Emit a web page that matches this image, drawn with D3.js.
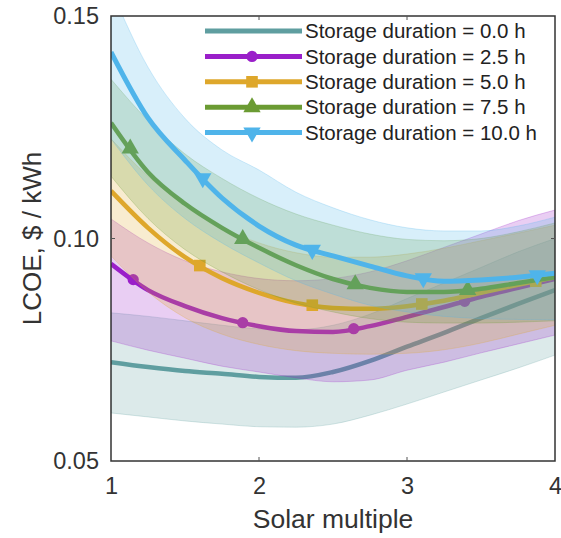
<!DOCTYPE html>
<html>
<head>
<meta charset="utf-8">
<script src="https://cdn.jsdelivr.net/npm/d3@7"></script>
<style>
  html, body { margin: 0; padding: 0; background: #fff; }
  svg { display: block; font-family: "Liberation Sans", Arial, sans-serif; }
</style>
</head>
<body>
<svg id="chart" width="561" height="538"></svg>
<script>
// ---- data ----
const solarMultiple = [1, 1.25, 1.5, 1.75, 2, 2.25, 2.5, 2.75, 3, 3.25, 3.5, 3.75, 4];

const seriesNames = ["Storage duration = 0.0 h", "Storage duration = 2.5 h", "Storage duration = 5.0 h",
                     "Storage duration = 7.5 h", "Storage duration = 10.0 h"];

const dur00 =   [0.0722, 0.0711, 0.0702, 0.0696, 0.0689, 0.0687, 0.0700, 0.0725, 0.0757, 0.0788, 0.0821, 0.0853, 0.0884];
const dur00Lo = [0.0608, 0.0599, 0.0590, 0.0583, 0.0577, 0.0576, 0.0583, 0.0603, 0.0628, 0.0655, 0.0682, 0.0709, 0.0738];
const dur00Hi = [0.0833, 0.0825, 0.0815, 0.0805, 0.0797, 0.0795, 0.0805, 0.0830, 0.0865, 0.0900, 0.0935, 0.0970, 0.1000];

const dur25 =   [0.0943, 0.0884, 0.0848, 0.0821, 0.0803, 0.0792, 0.0790, 0.0803, 0.0824, 0.0846, 0.0869, 0.0889, 0.0909];
const dur25Lo = [0.0770, 0.0749, 0.0731, 0.0713, 0.0700, 0.0687, 0.0678, 0.0682, 0.0704, 0.0722, 0.0743, 0.0763, 0.0783];
const dur25Hi = [0.1044, 0.0990, 0.0950, 0.0925, 0.0910, 0.0905, 0.0910, 0.0925, 0.0950, 0.0980, 0.1010, 0.1040, 0.1064];

const dur50 =   [0.1107, 0.1024, 0.0958, 0.0911, 0.0878, 0.0855, 0.0844, 0.0842, 0.0848, 0.0860, 0.0878, 0.0896, 0.0913];
const dur50Lo = [0.0961, 0.0880, 0.0822, 0.0785, 0.0762, 0.0748, 0.0742, 0.0740, 0.0742, 0.0750, 0.0765, 0.0785, 0.0805];
const dur50Hi = [0.1224, 0.1140, 0.1075, 0.1025, 0.0990, 0.0968, 0.0958, 0.0958, 0.0965, 0.0978, 0.0995, 0.1012, 0.1030];

const dur75 =   [0.1260, 0.1149, 0.1078, 0.1024, 0.0979, 0.0940, 0.0909, 0.0889, 0.0880, 0.0880, 0.0887, 0.0900, 0.0913];
const dur75Lo = [0.1140, 0.1045, 0.0975, 0.0925, 0.0885, 0.0855, 0.0835, 0.0820, 0.0812, 0.0810, 0.0810, 0.0812, 0.0815];
const dur75Hi = [0.1358, 0.1265, 0.1190, 0.1135, 0.1090, 0.1055, 0.1030, 0.1010, 0.0998, 0.0995, 0.1000, 0.1015, 0.1035];

const dur100 =   [0.1419, 0.1271, 0.1176, 0.1091, 0.1028, 0.0985, 0.0961, 0.0938, 0.0916, 0.0904, 0.0907, 0.0913, 0.0922];
const dur100Lo = [0.1224, 0.1120, 0.1045, 0.0990, 0.0945, 0.0905, 0.0875, 0.0850, 0.0835, 0.0825, 0.0820, 0.0818, 0.0817];
const dur100Hi = [0.1560, 0.1385, 0.1270, 0.1199, 0.1154, 0.1104, 0.1069, 0.1042, 0.1024, 0.1017, 0.1017, 0.1028, 0.1048];

// solar multiple at which markers sit
const markers00 = [];
const markers25 = [1.15, 1.89, 2.64, 3.39];
const markers50 = [1.60, 2.36, 3.10, 3.87];
const markers75 = [1.13, 1.89, 2.65, 3.41];
const markers100 = [1.62, 2.36, 3.11, 3.88];

const xTicks = [1, 2, 3, 4];
const yTicks = [0.05, 0.10, 0.15];

// ---- styling ----
const colors = ["#5f9ea0", "#9a1fc9", "#dea72b", "#6b9b33", "#4fb4ea"];
const symbols = [null, d3.symbolCircle, d3.symbolSquare, d3.symbolTriangle, "down"];

const series = [
  {name: seriesNames[0], mid: dur00, lo: dur00Lo, hi: dur00Hi, mk: markers00},
  {name: seriesNames[1], mid: dur25, lo: dur25Lo, hi: dur25Hi, mk: markers25},
  {name: seriesNames[2], mid: dur50, lo: dur50Lo, hi: dur50Hi, mk: markers50},
  {name: seriesNames[3], mid: dur75, lo: dur75Lo, hi: dur75Hi, mk: markers75},
  {name: seriesNames[4], mid: dur100, lo: dur100Lo, hi: dur100Hi, mk: markers100}
];

const M = {left: 111, right: 555, top: 16, bottom: 461};
const svg = d3.select("#chart");
const x = d3.scaleLinear().domain([1, 4]).range([M.left, M.right]);
const y = d3.scaleLinear().domain([0.05, 0.15]).range([M.bottom, M.top]);

svg.append("defs").append("clipPath").attr("id", "clip")
  .append("rect").attr("x", M.left).attr("y", M.top)
  .attr("width", M.right - M.left).attr("height", M.bottom - M.top);

const plot = svg.append("g").attr("clip-path", "url(#clip)");

function markerPath(i, size) {
  if (!symbols[i]) return "";
  if (symbols[i] === "down") {
    return d3.symbol().type(d3.symbolTriangle).size(size)();
  }
  return d3.symbol().type(symbols[i]).size(size)();
}
const markerSize = [0, 100, 135, 130, 130];

series.forEach((s, i) => {
  const pts = solarMultiple.map((sm, k) => ({sm, mid: s.mid[k], lo: s.lo[k], hi: s.hi[k]}));
  const area = d3.area().curve(d3.curveMonotoneX)
    .x(d => x(d.sm)).y0(d => y(d.lo)).y1(d => y(d.hi));
  plot.append("path").datum(pts).attr("d", area)
    .attr("fill", colors[i]).attr("fill-opacity", 0.22)
    .attr("stroke", colors[i]).attr("stroke-opacity", 0.25).attr("stroke-width", 1);
  const line = d3.line().curve(d3.curveMonotoneX).x(d => x(d.sm)).y(d => y(d.mid));
  plot.append("path").datum(pts).attr("d", line)
    .attr("fill", "none").attr("stroke", colors[i]).attr("stroke-width", i === 4 ? 5 : 4.5)
    .attr("stroke-linejoin", "round");
  if (symbols[i] && s.mk.length) {
    const interp = d3.scaleLinear().domain(solarMultiple).range(s.mid);
    plot.selectAll(null).data(s.mk).enter().append("path")
      .attr("d", markerPath(i, markerSize[i]))
      .attr("transform", d => `translate(${x(d)},${y(interp(d))})` + (symbols[i] === "down" ? " rotate(180)" : ""))
      .attr("fill", colors[i]);
  }
});

// frame
svg.append("rect").attr("x", M.left).attr("y", M.top)
  .attr("width", M.right - M.left).attr("height", M.bottom - M.top)
  .attr("fill", "none").attr("stroke", "#333").attr("stroke-width", 1.5);

// x axis
const xAxis = d3.axisBottom(x).tickValues(xTicks).tickFormat(d3.format("d")).tickSize(0).tickPadding(16);
const gx = svg.append("g").attr("transform", `translate(0,${M.bottom})`).call(xAxis);
gx.select(".domain").remove();
gx.selectAll("text").attr("font-size", 23.5).attr("fill", "#333").attr("font-family", "Liberation Sans, Arial, sans-serif");

const yAxis = d3.axisLeft(y).tickValues(yTicks).tickFormat(d3.format(".2f")).tickSize(0).tickPadding(12);
const gy = svg.append("g").attr("transform", `translate(${M.left},0)`).call(yAxis);
gy.select(".domain").remove();
gy.selectAll("text").attr("font-size", 23.5).attr("fill", "#333").attr("font-family", "Liberation Sans, Arial, sans-serif");

// small inner ticks
const innerX = xTicks.filter(t => t > 1 && t < 4);
svg.selectAll(null).data(innerX).enter().append("line")
  .attr("x1", d => x(d)).attr("x2", d => x(d)).attr("y1", M.bottom).attr("y2", M.bottom - 4)
  .attr("stroke", "#555").attr("stroke-width", 1);
svg.selectAll(null).data(innerX).enter().append("line")
  .attr("x1", d => x(d)).attr("x2", d => x(d)).attr("y1", M.top).attr("y2", M.top + 4)
  .attr("stroke", "#555").attr("stroke-width", 1);
const innerY = yTicks.filter(t => t > 0.05 && t < 0.15);
svg.selectAll(null).data(innerY).enter().append("line")
  .attr("x1", M.left).attr("x2", M.left + 4).attr("y1", d => y(d)).attr("y2", d => y(d))
  .attr("stroke", "#555").attr("stroke-width", 1);
svg.selectAll(null).data(innerY).enter().append("line")
  .attr("x1", M.right).attr("x2", M.right - 4).attr("y1", d => y(d)).attr("y2", d => y(d))
  .attr("stroke", "#555").attr("stroke-width", 1);

// axis titles
svg.append("text").attr("x", (M.left + M.right) / 2).attr("y", 528)
  .attr("text-anchor", "middle").attr("font-size", 26.5).attr("fill", "#333").text("Solar multiple");
svg.append("text").attr("transform", `translate(41,${(M.top + M.bottom) / 2}) rotate(-90)`)
  .attr("text-anchor", "middle").attr("font-size", 26).attr("fill", "#333").text("LCOE, $ / kWh");

// legend
const lg = svg.append("g");
const legY0 = 31, legDy = 25.4;
series.forEach((s, i) => {
  const ly = legY0 + i * legDy;
  lg.append("line").attr("x1", 205).attr("x2", 302).attr("y1", ly).attr("y2", ly)
    .attr("stroke", colors[i]).attr("stroke-width", 5);
  if (symbols[i]) {
    lg.append("path").attr("d", markerPath(i, markerSize[i]))
      .attr("transform", `translate(252,${ly})` + (symbols[i] === "down" ? " rotate(180)" : ""))
      .attr("fill", colors[i]);
  }
  lg.append("text").attr("x", 305).attr("y", ly).attr("dy", "0.35em")
    .attr("font-size", 20.5).attr("fill", "#222").text(s.name);
});
</script>
</body>
</html>
